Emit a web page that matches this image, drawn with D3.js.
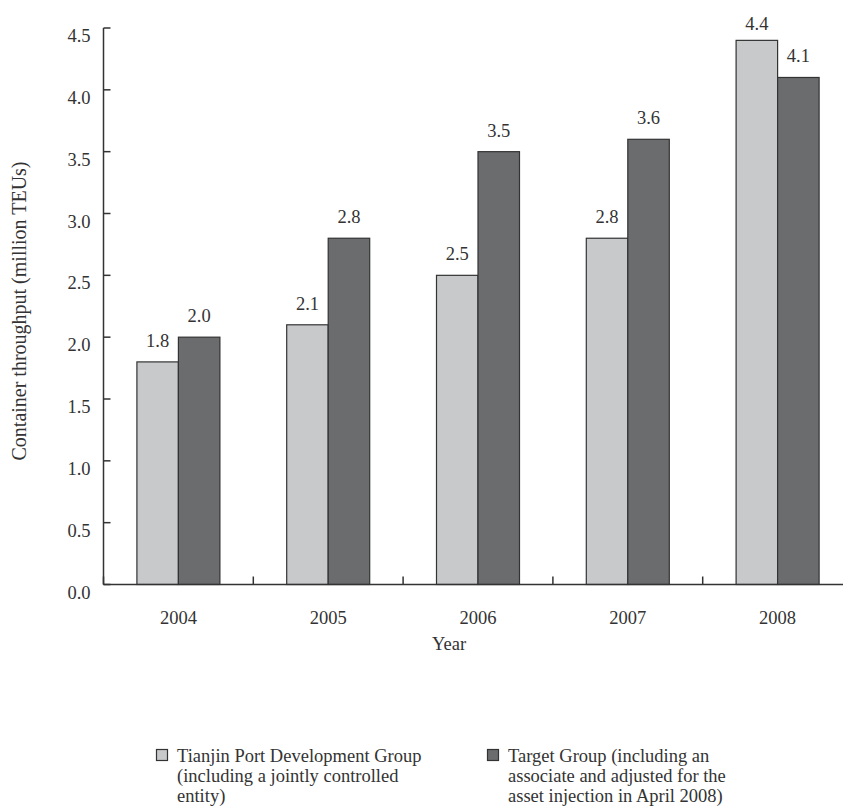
<!DOCTYPE html>
<html>
<head>
<meta charset="utf-8">
<script src="https://cdn.jsdelivr.net/npm/d3@7"></script>
<style>
  html, body { margin: 0; padding: 0; background: #fff; }
  svg { display: block; }
  text { font-family: "Liberation Serif", "Times New Roman", serif; fill: #333; }
</style>
</head>
<body>
<svg id="chart" width="843" height="809"></svg>
<script>
// Container throughput by year (million TEUs)
const years = ["2004", "2005", "2006", "2007", "2008"];
const tianjinPort = [1.8, 2.1, 2.5, 2.8, 4.4];
const targetGroup = [2.0, 2.8, 3.5, 3.6, 4.1];
const yTicks = [0, 0.5, 1.0, 1.5, 2.0, 2.5, 3.0, 3.5, 4.0, 4.5];
const seriesNames = [
  ["Tianjin Port Development Group", "(including a jointly controlled", "entity)"],
  ["Target Group (including an", "associate and adjusted for the", "asset injection in April 2008)"]
];
const seriesColors = ["#c8c9cb", "#6b6c6e"];

const svg = d3.select("#chart");
const plotLeft = 103.5, plotRight = 852.5, plotTop = 28, plotBottom = 584.5;
const fs = 18.5;

const x = d3.scaleBand().domain(years).range([plotLeft, plotRight]).paddingInner(0).paddingOuter(0);
const y = d3.scaleLinear().domain([0, 4.5]).range([plotBottom, plotTop]);
const barW = 41.5;

// bars with value labels above
const series = [tianjinPort, targetGroup];
series.forEach((vals, si) => {
  const g = svg.append("g");
  g.selectAll("rect").data(years).join("rect")
    .attr("x", d => x(d) + x.bandwidth() / 2 + (si - 1) * barW)
    .attr("y", (d, i) => y(vals[i]))
    .attr("width", barW)
    .attr("height", (d, i) => plotBottom - y(vals[i]))
    .attr("fill", seriesColors[si])
    .attr("stroke", "#333")
    .attr("stroke-width", 1.2);
  g.selectAll("text").data(years).join("text")
    .attr("x", d => x(d) + x.bandwidth() / 2 + (si - 0.5) * barW)
    .attr("y", (d, i) => Math.max(y(vals[i]) - 15, 30))
    .attr("text-anchor", "middle")
    .attr("font-size", fs)
    .text((d, i) => vals[i].toFixed(1));
});

// y axis
const yAxis = svg.append("g");
yAxis.append("line").attr("x1", plotLeft).attr("x2", plotLeft).attr("y1", plotTop).attr("y2", plotBottom)
  .attr("stroke", "#333").attr("stroke-width", 1.5);
yAxis.selectAll("line.tick").data(yTicks).join("line").attr("class", "tick")
  .attr("x1", plotLeft).attr("x2", plotLeft + 7)
  .attr("y1", d => y(d)).attr("y2", d => y(d))
  .attr("stroke", "#333").attr("stroke-width", 1.5);
yAxis.selectAll("text").data(yTicks).join("text")
  .attr("x", plotLeft - 13).attr("y", d => y(d) + 14)
  .attr("text-anchor", "end").attr("font-size", fs)
  .text(d => d.toFixed(1));

// x axis
const xAxis = svg.append("g");
xAxis.append("line").attr("x1", plotLeft).attr("x2", 843).attr("y1", plotBottom).attr("y2", plotBottom)
  .attr("stroke", "#333").attr("stroke-width", 1.5);
xAxis.selectAll("line.tick").data(years).join("line").attr("class", "tick")
  .attr("x1", d => x(d)).attr("x2", d => x(d))
  .attr("y1", plotBottom).attr("y2", plotBottom - 8)
  .attr("stroke", "#333").attr("stroke-width", 1.5);
xAxis.selectAll("text").data(years).join("text")
  .attr("x", d => x(d) + x.bandwidth() / 2).attr("y", 624)
  .attr("text-anchor", "middle").attr("font-size", fs)
  .text(d => d);

// axis titles
svg.append("text").attr("x", 449).attr("y", 650).attr("text-anchor", "middle")
  .attr("font-size", fs).text("Year");
svg.append("text").attr("transform", "translate(26,311) rotate(-90)")
  .attr("text-anchor", "middle").attr("font-size", 20)
  .text("Container throughput (million TEUs)");

// legend
const legendX = [156, 487];
seriesNames.forEach((lines, si) => {
  const g = svg.append("g").attr("transform", `translate(${legendX[si]},749)`);
  g.append("rect").attr("x", 0.5).attr("y", 0.5).attr("width", 11).attr("height", 11)
    .attr("fill", seriesColors[si]).attr("stroke", "#333").attr("stroke-width", 1.2);
  g.selectAll("text").data(lines).join("text")
    .attr("x", 21).attr("y", (d, i) => 13 + i * 20)
    .attr("font-size", fs).text(d => d);
});
</script>
</body>
</html>
